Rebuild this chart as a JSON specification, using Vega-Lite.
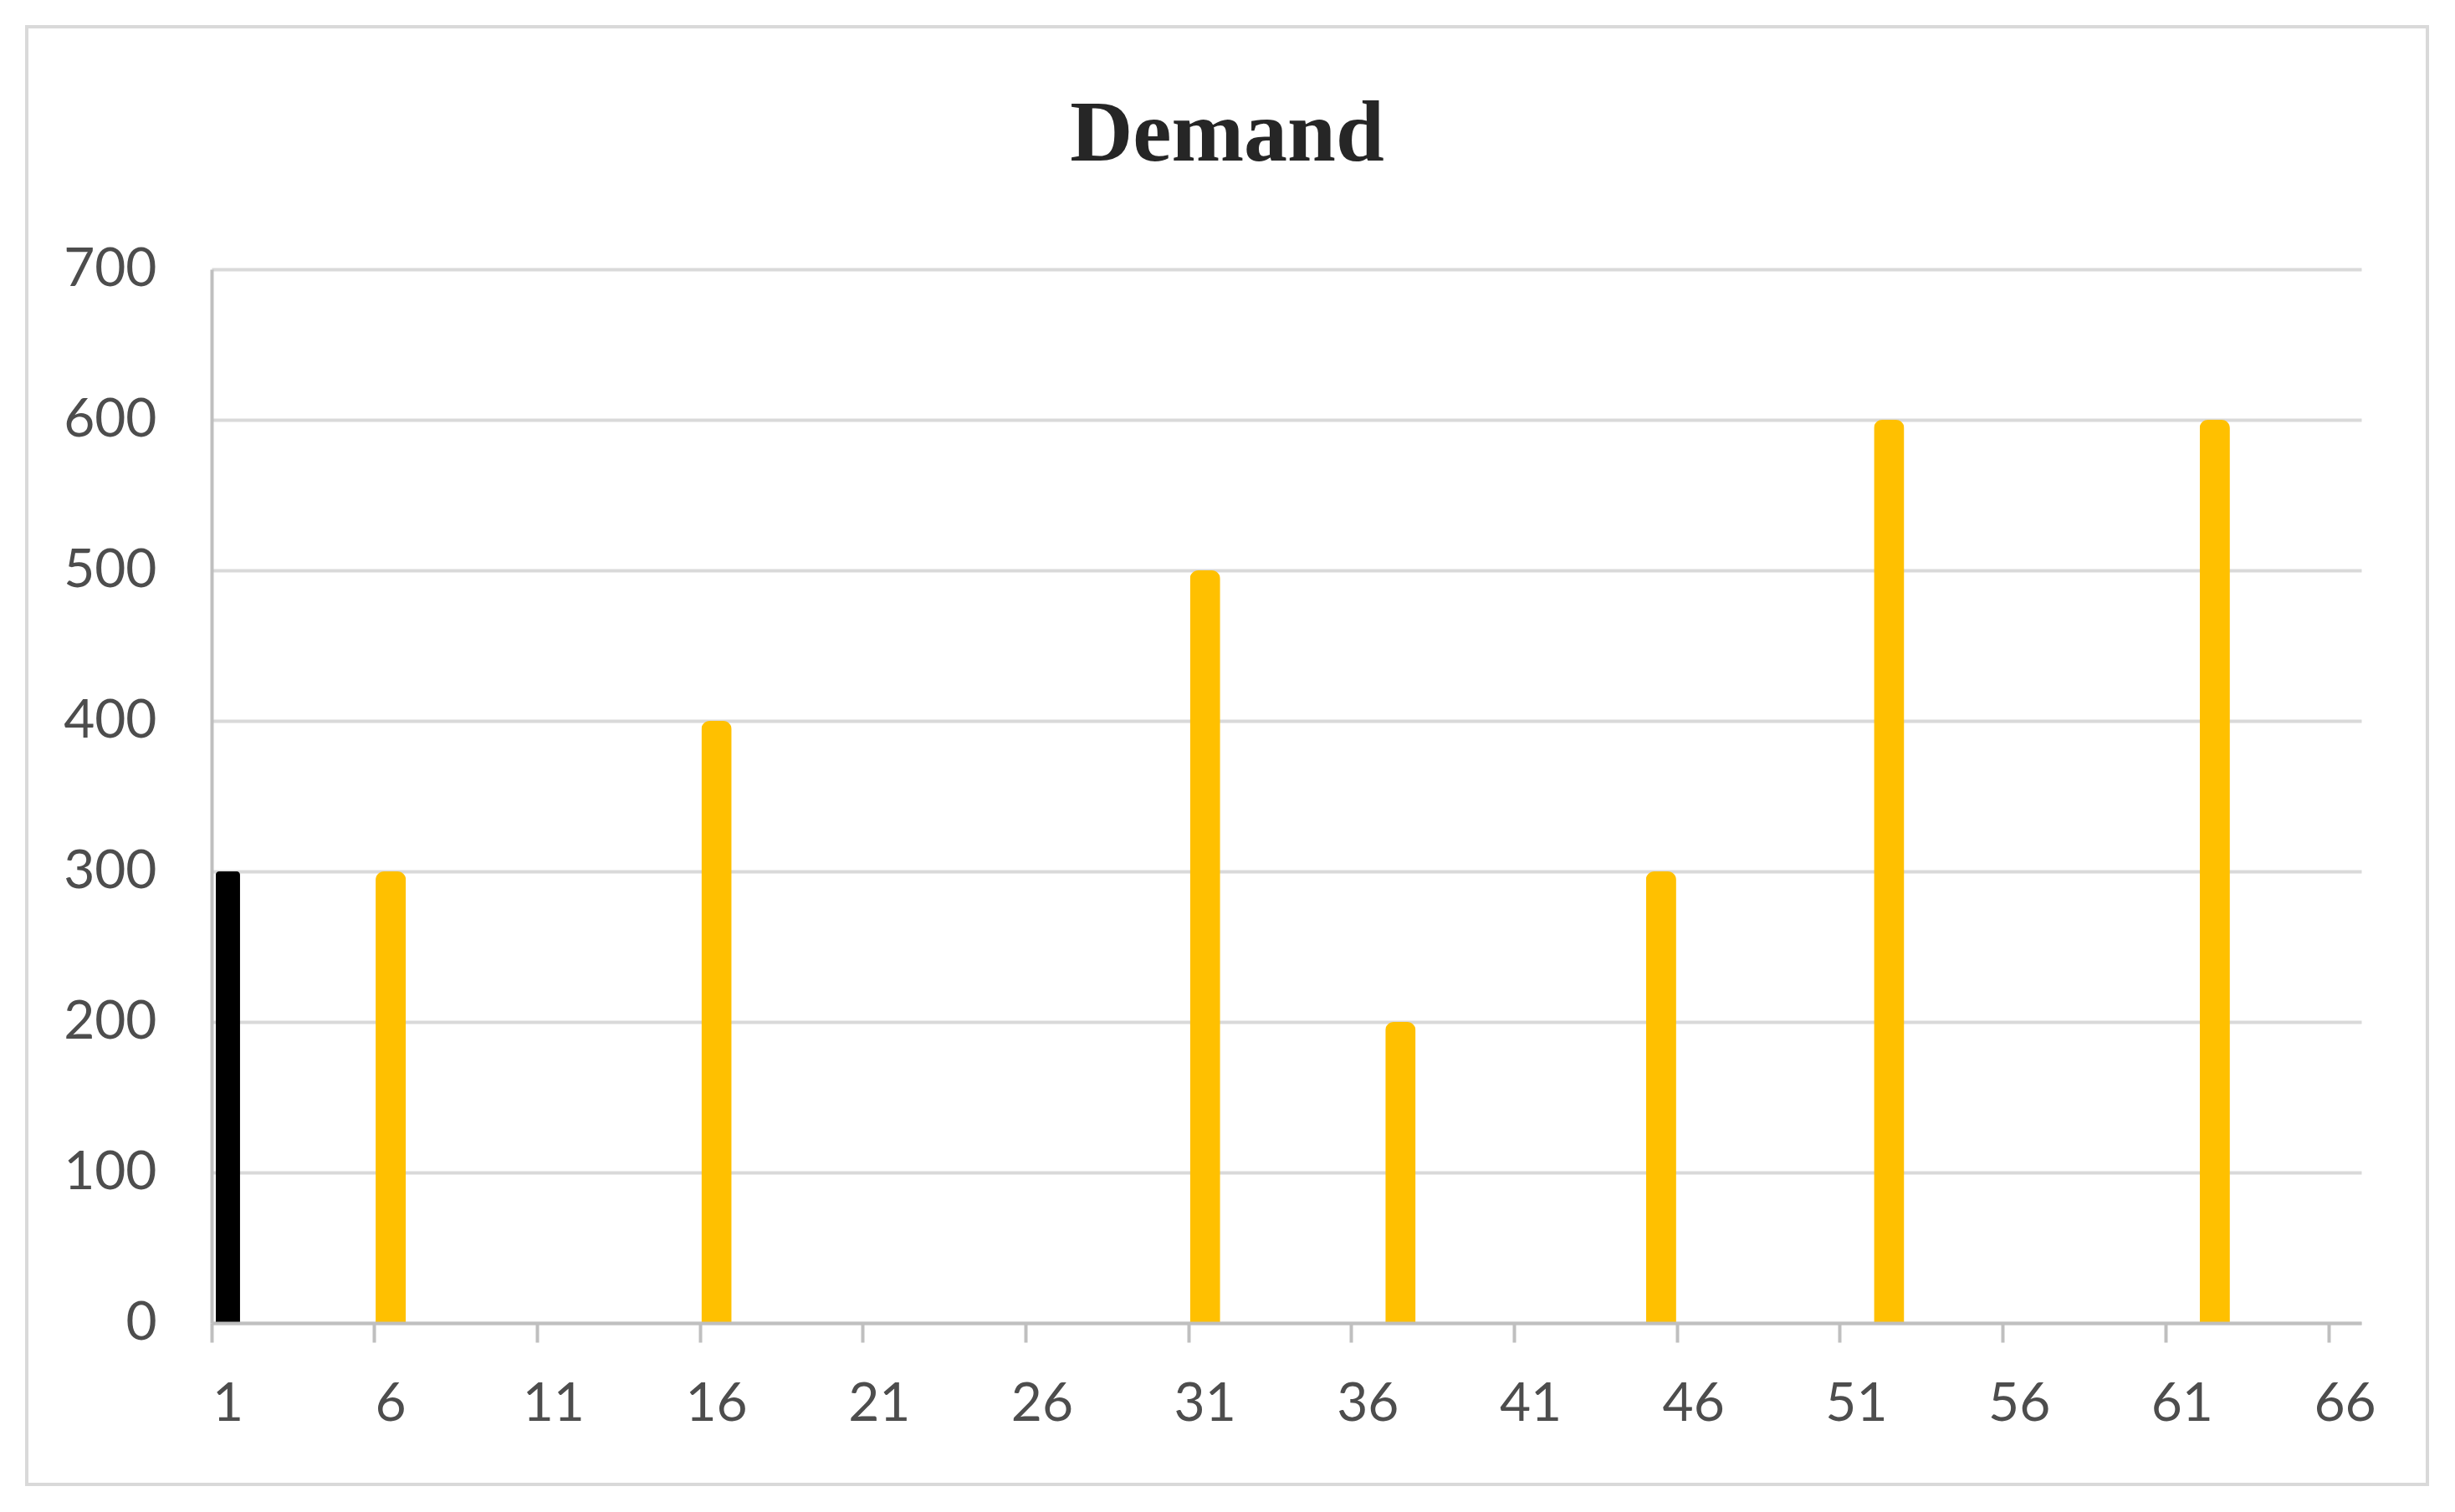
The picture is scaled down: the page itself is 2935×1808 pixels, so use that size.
{
  "$schema": "https://vega.github.io/schema/vega-lite/v6.json",
  "width": 2870,
  "height": 1743,
  "autosize": {"type": "none"},
  "padding": {"left": 32, "top": 32, "right": 33, "bottom": 33},
  "background": "white",
  "title": {"text": "Demand", "font": "Liberation Serif", "fontSize": 104, "fontWeight": "bold", "color": "#262626", "anchor": "middle", "offset": -182},
  "data": {"values": [
    {"period": 1, "demand": 300, "kind": "start"},
    {"period": 6, "demand": 300, "kind": "demand"},
    {"period": 16, "demand": 400, "kind": "demand"},
    {"period": 31, "demand": 500, "kind": "demand"},
    {"period": 37, "demand": 200, "kind": "demand"},
    {"period": 45, "demand": 300, "kind": "demand"},
    {"period": 52, "demand": 600, "kind": "demand"},
    {"period": 62, "demand": 600, "kind": "demand"}
  ]},
  "encoding": {
    "x": {
      "field": "period", "type": "ordinal",
      "scale": {"domain": [1,2,3,4,5,6,7,8,9,10,11,12,13,14,15,16,17,18,19,20,21,22,23,24,25,26,27,28,29,30,31,32,33,34,35,36,37,38,39,40,41,42,43,44,45,46,47,48,49,50,51,52,53,54,55,56,57,58,59,60,61,62,63,64,65,66], "range": [221, 2791], "paddingInner": 0, "paddingOuter": 0},
      "axis": {"values": [1,6,11,16,21,26,31,36,41,46,51,56,61,66], "bandPosition": 0, "offset": -193, "domainColor": "#bfbfbf", "domainWidth": 4, "tickColor": "#bfbfbf", "tickWidth": 4, "tickSize": 23, "labelPadding": 42, "labelFont": "Lato", "labelFontSize": 64, "labelColor": "#4d4d4d", "labelAngle": 0, "title": null, "grid": false, "zindex": 1}
    },
    "y": {
      "field": "demand", "type": "quantitative",
      "scale": {"domain": [0, 700], "range": [1550, 290], "nice": false, "zero": true},
      "axis": {"values": [0,100,200,300,400,500,600,700], "offset": -221, "domain": true, "domainColor": "#bfbfbf", "domainWidth": 4, "ticks": false, "labelPadding": 66, "labelFont": "Lato", "labelFontSize": 64, "labelColor": "#4d4d4d", "grid": true, "gridColor": "#d9d9d9", "gridWidth": 4, "title": null}
    }
  },
  "layer": [
    {
      "transform": [{"filter": "datum.kind === 'start'"}],
      "mark": {"type": "bar", "width": {"band": 0.745}, "cornerRadiusEnd": 4, "color": "#000000"}
    },
    {
      "transform": [{"filter": "datum.kind === 'demand'"}],
      "mark": {"type": "bar", "width": {"band": 0.93}, "cornerRadiusEnd": 10, "color": "#FFC000"}
    }
  ],
  "config": {"view": {"stroke": "#d9d9d9", "strokeWidth": 4}}
}
